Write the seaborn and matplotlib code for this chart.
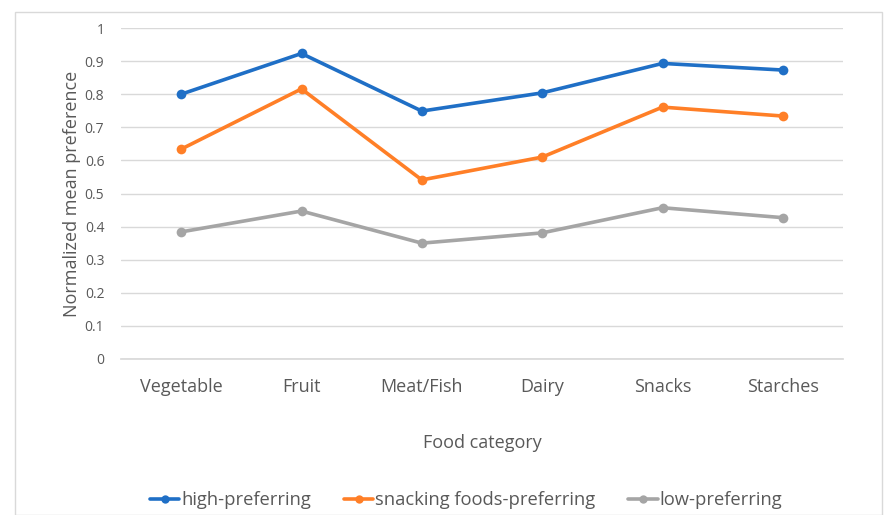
import matplotlib
matplotlib.use("Agg")
import matplotlib.pyplot as plt
import seaborn as sns
import pandas as pd
from matplotlib.patches import Rectangle
from matplotlib.lines import Line2D

categories = ["Vegetable", "Fruit", "Meat/Fish", "Dairy", "Snacks", "Starches"]
high_pref = [0.80, 0.923, 0.749, 0.804, 0.893, 0.873]
snack_pref = [0.634, 0.816, 0.541, 0.610, 0.761, 0.734]
low_pref = [0.384, 0.447, 0.350, 0.381, 0.457, 0.427]
series_names = ["high-preferring", "snacking foods-preferring", "low-preferring"]
y_ticks = [0, 0.1, 0.2, 0.3, 0.4, 0.5, 0.6, 0.7, 0.8, 0.9, 1]
y_tick_labels = ["0", "0.1", "0.2", "0.3", "0.4", "0.5", "0.6", "0.7", "0.8", "0.9", "1"]

rows = []
for name, vals in zip(series_names, [high_pref, snack_pref, low_pref]):
    for c, v in zip(categories, vals):
        rows.append({"cat": c, "val": v, "series": name})
df = pd.DataFrame(rows)

sns.set_theme(style="white")
plt.rcParams['font.family'] = ['Open Sans', 'DejaVu Sans']

fig = plt.figure(figsize=(8.96, 5.15), dpi=100)
fig.patches.append(Rectangle((15/896, 0), (882-15)/896, 1-12/515, transform=fig.transFigure,
                             fill=False, edgecolor="#d9d9d9", linewidth=1))
ax = fig.add_axes([121/896, 1-359/515, (843-121)/896, (359-28)/515])

palette = {"high-preferring": "#1f6fc6", "snacking foods-preferring": "#ff7f27", "low-preferring": "#a5a5a5"}
sns.lineplot(data=df, x="cat", y="val", hue="series", palette=palette, marker="o",
             markersize=7, markeredgewidth=0, linewidth=2.6, sort=False, ax=ax, legend=False)

ax.set_xlim(-0.5, 5.5)
ax.set_ylim(0, 1)
ax.set_yticks(y_ticks)
ax.set_yticklabels(y_tick_labels)
ax.yaxis.grid(True, color="#d9d9d9", linewidth=1)
ax.set_axisbelow(True)
for s in ["top", "right", "left"]:
    ax.spines[s].set_visible(False)
ax.spines["bottom"].set_color("#d9d9d9")
ax.tick_params(axis="y", labelsize=10, colors="#595959", length=0, pad=12)
ax.tick_params(axis="x", labelsize=13, colors="#595959", length=0, pad=14)
ax.set_xlabel("Food category", fontsize=13, color="#595959", labelpad=27)
ax.set_ylabel("Normalized mean preference", fontsize=13, color="#595959", labelpad=3)

handles = [Line2D([0], [0], color=palette[n], lw=2.6, marker="o", markersize=6, markeredgewidth=0) for n in series_names]
fig.legend(handles, series_names, loc="center", bbox_to_anchor=(466/896, 1-500/515), ncol=3,
           frameon=False, fontsize=13.2, handlelength=1.6, handletextpad=0.1, columnspacing=1.8,
           labelcolor="#595959")

fig.savefig("out.png", dpi=100)
